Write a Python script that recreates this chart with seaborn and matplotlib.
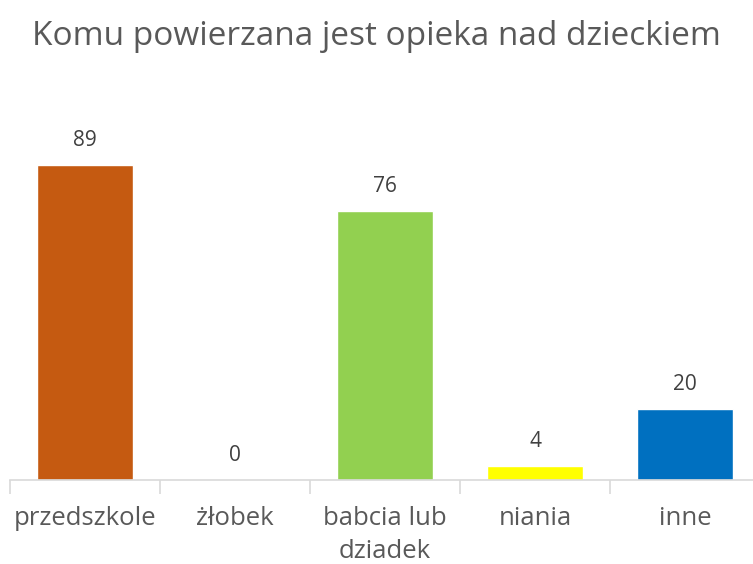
import numpy as np
import pandas as pd
import matplotlib.pyplot as plt
import seaborn as sns

categories = ["przedszkole", "żłobek", "babcia lub\ndziadek", "niania", "inne"]
values = [89, 0, 76, 4, 20]
colors = ["#C55A11", "#A5A5A5", "#92D050", "#FFFF00", "#0070C0"]

df = pd.DataFrame({"kategoria": categories, "liczba": values})

sns.set_style("white")
plt.rcParams["font.family"] = ["Open Sans", "DejaVu Sans"]

fig = plt.figure(figsize=(7.53, 5.64), dpi=100)
ax = fig.add_axes([10 / 753, 84 / 564, 750 / 753, 354 / 564])

sns.barplot(
    data=df,
    x="kategoria",
    y="liczba",
    hue="kategoria",
    palette=colors,
    legend=False,
    width=0.64,
    saturation=1,
    ax=ax
)

ax.set_ylim(0, 100)
ax.set_xlim(-0.5, len(categories) - 0.5)

# etykiety wartosci nad slupkami
for i, v in enumerate(values):
    ax.text(i, v + 4, str(v), ha="center", va="bottom",
            fontsize=15, color="#404040")

for side in ["top", "right", "left"]:
    ax.spines[side].set_visible(False)
ax.spines["bottom"].set_color("#D9D9D9")
ax.spines["bottom"].set_linewidth(1.2)

ax.set_yticks([])
ax.set_xticks(np.arange(len(categories)))
ax.set_xticklabels(categories, fontsize=18.5, color="#595959", linespacing=1.4)
ax.set_xticks(np.arange(len(categories) + 1) - 0.5, minor=True)
ax.tick_params(axis="x", which="major", bottom=False, length=0, pad=19)
ax.tick_params(axis="x", which="minor", bottom=True, length=10,
               color="#D9D9D9", width=1.2)
ax.set_xlabel("")
ax.set_ylabel("")

fig.text(0.5, 0.936, "Komu powierzana jest opieka nad dzieckiem",
         ha="center", va="center", fontsize=24, color="#595959")

plt.savefig("out.png", dpi=100)
plt.close()
